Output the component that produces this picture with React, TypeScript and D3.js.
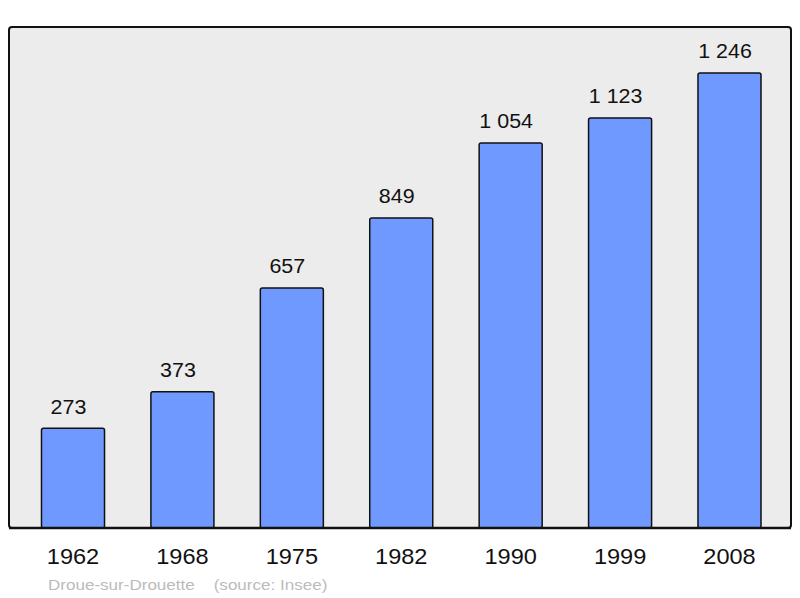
import * as d3 from 'd3'
import React from "react";

const years = ['1962', '1968', '1975', '1982', '1990', '1999', '2008'];
const population = [273, 373, 657, 849, 1054, 1123, 1246];
const valueLabels = ['273', '373', '657', '849', '1 054', '1 123', '1 246'];
const townName = 'Droue-sur-Drouette';
const sourceText = '(source: Insee)';

const width = 800;
const height = 598;
const frame = { left: 9, top: 27, right: 791, bottom: 528 };
// the text of the original is a little wider than it is tall
const stretch = 1.1;

const App: React.FC = () => {
    const x = d3.scaleBand<string>()
        .domain(years)
        .range([18.3, 784.2])
        .paddingInner(0.424)
        .paddingOuter(0.212);

    const y = d3.scaleLinear()
        .domain([0, 1246 * (frame.bottom - frame.top) / 455])
        .range([frame.bottom, frame.top]);

    const font = '"Liberation Sans", Arial, sans-serif';
    const cx = (yr: string) => (x(yr) ?? 0) + x.bandwidth() / 2;

    return (
        <svg width={width} height={height}
            style={{ position: 'absolute', left: 0, top: 0 }}>
            <rect x={frame.left} y={frame.top}
                width={frame.right - frame.left} height={frame.bottom - frame.top}
                rx={3} fill="#ececec" stroke="#111" strokeWidth={2} />
            {years.map((yr, i) => (
                <g key={yr}>
                    <rect x={x(yr)} y={y(population[i])}
                        width={x.bandwidth()} height={y(0) - y(population[i])}
                        rx={2} fill="#7099ff" stroke="#111" strokeWidth={1.5} />
                    <text transform={`translate(${cx(yr) - 4.5},${y(population[i]) - 14.7}) scale(${stretch},1)`}
                        textAnchor="middle" fontFamily={font} fontSize={19.5} fill="#111">
                        {valueLabels[i]}
                    </text>
                    <text transform={`translate(${cx(yr)},564) scale(${stretch},1)`}
                        textAnchor="middle" fontFamily={font} fontSize={21.4} fill="#111">
                        {yr}
                    </text>
                </g>
            ))}
            <line x1={frame.left} x2={frame.right} y1={frame.bottom} y2={frame.bottom}
                stroke="#111" strokeWidth={2.5} />
            <text transform={`translate(48,589.5) scale(${stretch},1)`}
                fontFamily={font} fontSize={15.5} fill="#bbbbbb"
                style={{ whiteSpace: 'pre' }}>
                {townName + '    ' + sourceText}
            </text>
        </svg>
    );
}

export default App;
